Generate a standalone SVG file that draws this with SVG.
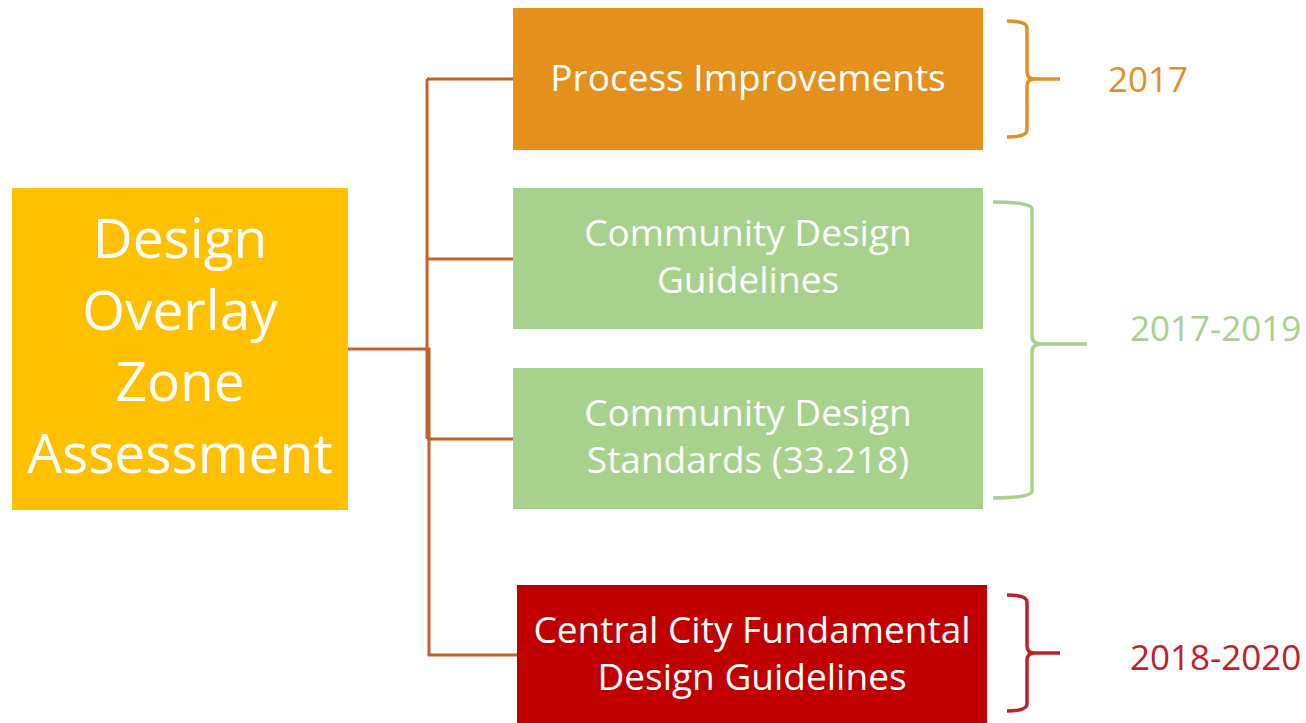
<svg xmlns="http://www.w3.org/2000/svg" width="1306" height="723" viewBox="0 0 1306 723">
<style>
.t{font-family:"Open Sans","Noto Sans","Liberation Sans",sans-serif;fill:#fff;text-anchor:middle}
.b{font-size:37px}
.big{font-size:55px}
.y{font-family:"Open Sans","Noto Sans","Liberation Sans",sans-serif;font-size:35px}
.conn{fill:none;stroke:#C0622A;stroke-width:3}
.br{fill:none;stroke-width:3.5;stroke-linejoin:round}
</style>
<rect width="1306" height="723" fill="#fff"/>
<g id="connectors">
<path class="conn" d="M348,349 L427,349 M427,79 L427,439 M427,79 L513,79 M427,259 L513,259 M427,439 L513,439"/>
<path class="conn" d="M428,349 L429,349 L429,655 L517,655"/>
</g>
<g id="node-doz">
<rect x="12" y="188" width="336" height="322" fill="#FFC000"/>
<text class="t big" x="180" y="258">Design</text>
<text class="t big" x="180" y="330">Overlay</text>
<text class="t big" x="180" y="401">Zone</text>
<text class="t big" x="180" y="473">Assessment</text>
</g>
<g id="node-process">
<rect x="513" y="8" width="470" height="142" fill="#E5901C"/>
<text class="t b" x="748" y="91">Process Improvements</text>
</g>
<g id="node-guidelines">
<rect x="513" y="188" width="470" height="141" fill="#A9D18E"/>
<text class="t b" x="748" y="246">Community Design</text>
<text class="t b" x="748" y="293">Guidelines</text>
</g>
<g id="node-standards">
<rect x="513" y="368" width="470" height="141" fill="#A9D18E"/>
<text class="t b" x="748" y="426">Community Design</text>
<text class="t b" x="748" y="473">Standards (33.218)</text>
</g>
<g id="node-central">
<rect x="517" y="585" width="470" height="138" fill="#C00000"/>
<text class="t b" x="752" y="643">Central City Fundamental</text>
<text class="t b" x="752" y="690">Design Guidelines</text>
</g>
<g id="brace-2017">
<path class="br" stroke="#E5901C" d="M1007,21 Q1027,21 1027,28 L1027,72 Q1027,79 1035,79 L1060,79 M1035,79 Q1027,79 1027,86 L1027,130 Q1027,137 1007,137"/>
<text class="y" x="1108" y="92" fill="#E5901C">2017</text>
</g>
<g id="brace-2017-2019">
<path class="br" stroke="#A9D18E" stroke-width="4" d="M993,202 Q1032,202 1032,209 L1032,336 Q1032,344 1042,344 L1087,344 M1042,344 Q1032,344 1032,352 L1032,491 Q1032,498 993,498"/>
<text class="y" x="1130" y="341" fill="#A9D18E">2017-2019</text>
</g>
<g id="brace-2018-2020">
<path class="br" stroke="#C0202A" d="M1007,595 Q1027,595 1027,602 L1027,646 Q1027,653 1035,653 L1060,653 M1035,653 Q1027,653 1027,660 L1027,704 Q1027,711 1007,711"/>
<text class="y" x="1130" y="670" fill="#C0202A">2018-2020</text>
</g>
</svg>
